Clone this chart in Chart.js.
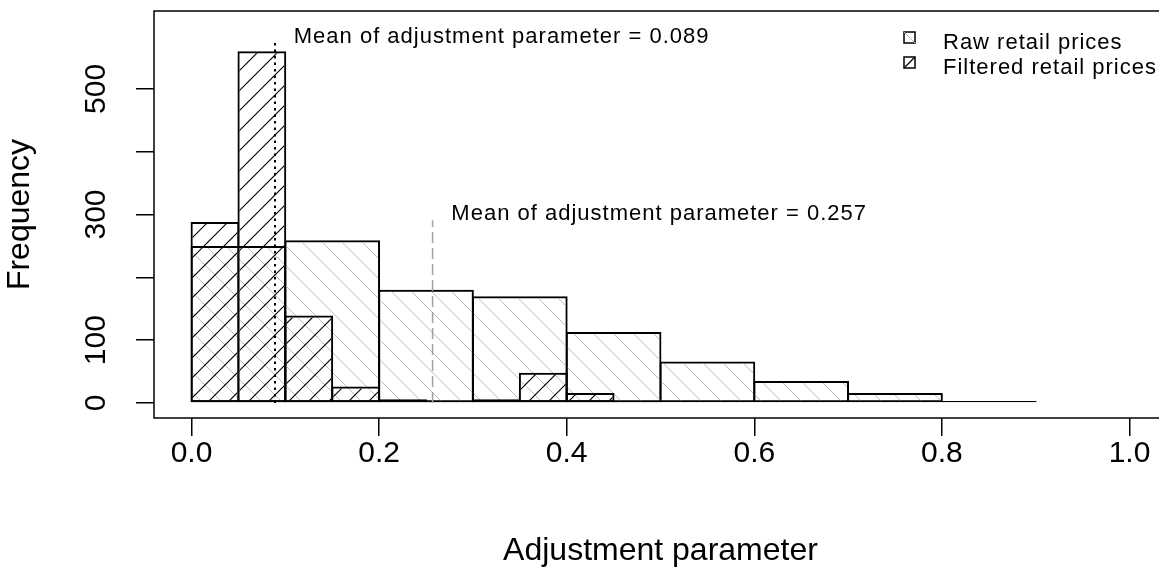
<!DOCTYPE html>
<html>
<head>
<meta charset="utf-8">
<script src="https://cdn.jsdelivr.net/npm/chart.js@4.4.1/dist/chart.umd.min.js"></script>
<style>
  html, body { margin: 0; padding: 0; background: #fff; overflow: hidden; }
  canvas { display: block; }
</style>
</head>
<body>
<canvas id="adjChart" width="1180" height="569"></canvas>
<script>
// raw prices binned at 0.1, filtered prices at 0.05
var rawBreaks = [0, 0.1, 0.2, 0.3, 0.4, 0.5, 0.6, 0.7, 0.8, 0.9];
var rawCounts = [250, 259, 180, 170, 113, 66, 35, 16, 3];
var filteredBreaks = [0, 0.05, 0.1, 0.15, 0.2, 0.25, 0.3, 0.35, 0.4, 0.45, 0.5];
var filteredCounts = [288, 560, 139, 26, 6, 2, 6, 48, 16, 2];

var xTicks = [0, 0.2, 0.4, 0.6, 0.8, 1.0];
var yTicks = [0, 100, 200, 300, 400, 500];
var yTickLabels = ['0', '100', '', '300', '', '500'];

// raw first, filtered second
var seriesNames = ['Raw retail prices', 'Filtered retail prices'];
var means = [0.257, 0.089];
var meanLineTops = [291, 573];
var meanLabels = ['Mean of adjustment parameter = 0.257', 'Mean of adjustment parameter = 0.089'];

var FONT = "'Liberation Sans', Arial, sans-serif";

function toPoints(breaks, counts) {
    return counts.map(function (c, i) {
        return { x: (breaks[i] + breaks[i + 1]) / 2, y: c };
    });
}

// diagonal line fill; dir > 0 is "/", dir < 0 is "\"
function hatch(color, width, dir, off) {
    var size = 20;
    var c = document.createElement('canvas');
    c.width = size;
    c.height = size;
    var g = c.getContext('2d');
    g.strokeStyle = color;
    g.lineWidth = width;
    g.beginPath();
    for (var k = -2; k <= 2; k++) {
        var d = k * size + off;
        if (dir > 0) {
            g.moveTo(d + 2, -2);
            g.lineTo(d - size - 2, size + 2);
        } else {
            g.moveTo(d - 2, -2);
            g.lineTo(d + size + 2, size + 2);
        }
    }
    g.stroke();
    return g.createPattern(c, 'repeat');
}

var rawFill = hatch('#bdbdbd', 1, -1, 0);
var filteredFill = hatch('#000', 1.2, 1, 10);

function setTicks(list) {
    return function (scale) {
        scale.ticks = list.map(function (v) { return { value: v }; });
    };
}

var axisGrid = { drawOnChartArea: false, drawTicks: true, offset: false, tickLength: 18, color: '#000', lineWidth: 1.5 };

// mean markers, their notes, the box round the plot and the key
var overlay = {
    id: 'overlay',
    afterDatasetsDraw: function (chart) {
        var ctx = chart.ctx, x = chart.scales.x, y = chart.scales.y, a = chart.chartArea;
        var lineStyles = [
            { color: '#a0a0a0', dash: [11, 5], width: 1.5 },
            { color: '#000', dash: [2.5, 4], width: 2 }
        ];
        ctx.save();
        means.forEach(function (m, i) {
            var px = x.getPixelForValue(m);
            ctx.strokeStyle = lineStyles[i].color;
            ctx.lineWidth = lineStyles[i].width;
            ctx.setLineDash(lineStyles[i].dash);
            ctx.beginPath();
            ctx.moveTo(px, y.getPixelForValue(0));
            ctx.lineTo(px, y.getPixelForValue(meanLineTops[i]));
            ctx.stroke();
        });
        ctx.setLineDash([]);

        ctx.font = '22px ' + FONT;
        ctx.letterSpacing = '1px';
        ctx.fillStyle = '#000';
        ctx.textAlign = 'left';
        ctx.textBaseline = 'middle';
        means.forEach(function (m, i) {
            ctx.fillText(meanLabels[i], x.getPixelForValue(m + 0.02), y.getPixelForValue(meanLineTops[i] + 10));
        });

        ctx.strokeStyle = '#000';
        ctx.lineWidth = 1.5;
        ctx.strokeRect(a.left, a.top, a.right - a.left, a.bottom - a.top);

        // key
        var bx = 904, by = [32, 57], bs = 11;
        seriesNames.forEach(function (name, i) {
            ctx.strokeStyle = '#000';
            ctx.lineWidth = 1.5;
            ctx.strokeRect(bx, by[i], bs, bs);
            ctx.beginPath();
            if (i === 0) {
                ctx.strokeStyle = '#b0b0b0';
                ctx.lineWidth = 1;
                ctx.moveTo(bx, by[i]);
                ctx.lineTo(bx + bs, by[i] + bs);
            } else {
                ctx.strokeStyle = '#000';
                ctx.lineWidth = 1.2;
                ctx.moveTo(bx, by[i] + bs);
                ctx.lineTo(bx + bs, by[i]);
            }
            ctx.stroke();
            ctx.fillText(name, 943, by[i] + 10.5);
        });
        ctx.restore();
    }
};

var ctxHist = document.getElementById('adjChart');

var histChart = new Chart(ctxHist, {
    type: 'bar',
    data: {
        datasets: [{
            label: seriesNames[1],
            data: toPoints(filteredBreaks, filteredCounts),
            xAxisID: 'x2',
            backgroundColor: filteredFill,
            borderColor: '#000',
            borderWidth: 2,
            borderSkipped: false,
            inflateAmount: 0,
            grouped: false,
            barPercentage: 1.04,
            categoryPercentage: 1,
            order: 0
        }, {
            label: seriesNames[0],
            data: toPoints(rawBreaks, rawCounts),
            xAxisID: 'x',
            backgroundColor: rawFill,
            borderColor: '#000',
            borderWidth: 2,
            borderSkipped: false,
            inflateAmount: 0,
            grouped: false,
            barPercentage: 1.02,
            categoryPercentage: 1,
            order: 1
        }]
    },
    options: {
        responsive: false,
        animation: false,
        events: [],
        layout: { padding: { top: 11, right: 13, left: 0, bottom: 0 } },
        plugins: {
            legend: { display: false },
            tooltip: { enabled: false }
        },
        scales: {
            x: {
                type: 'linear',
                min: -0.04,
                max: 1.04,
                offset: false,
                afterBuildTicks: setTicks(xTicks),
                afterFit: function (s) {
                    s.height = 151;
                    s.paddingLeft = 0;
                    s.paddingRight = 0;
                },
                grid: axisGrid,
                border: { display: false },
                ticks: {
                    font: { family: FONT, size: 30 },
                    color: '#000',
                    padding: 0,
                    autoSkip: false,
                    maxRotation: 0,
                    callback: function (v) { return v.toFixed(1); }
                },
                title: {
                    display: true,
                    text: 'Adjustment parameter',
                    color: '#000',
                    font: { family: FONT, size: 32, lineHeight: 1 },
                    padding: { top: 0, bottom: 1.5 }
                }
            },
            x2: {
                type: 'linear',
                min: -0.04,
                max: 1.04,
                offset: false,
                display: false,
                afterBuildTicks: setTicks(xTicks)
            },
            y: {
                min: -24,
                max: 624,
                afterBuildTicks: setTicks(yTicks),
                afterFit: function (s) {
                    s.width = 154;
                    s.paddingTop = 0;
                    s.paddingBottom = 0;
                },
                grid: axisGrid,
                border: { display: false },
                ticks: {
                    font: { family: FONT, size: 30 },
                    color: '#000',
                    padding: 14,
                    autoSkip: false,
                    minRotation: 90,
                    maxRotation: 90,
                    crossAlign: 'center',
                    callback: function (v) { return yTickLabels[yTicks.indexOf(v)]; }
                },
                title: {
                    display: true,
                    text: 'Frequency',
                    color: '#000',
                    font: { family: FONT, size: 32, lineHeight: 1 },
                    padding: { top: 4, bottom: 0 }
                }
            }
        }
    },
    plugins: [overlay]
});
</script>
</body>
</html>
